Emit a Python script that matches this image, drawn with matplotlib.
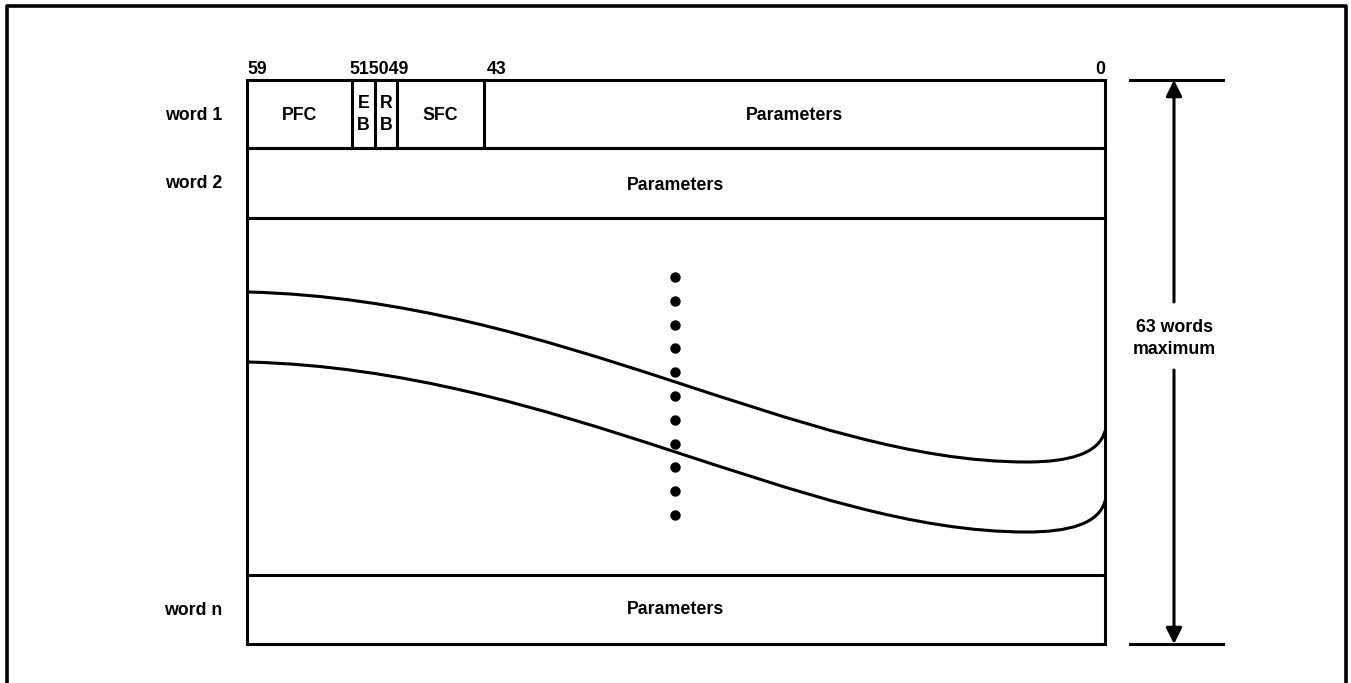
import numpy as np
import matplotlib.pyplot as plt
from matplotlib.path import Path
from matplotlib.patches import PathPatch, Rectangle

# bit layout of word 1
bit_labels = ['59', '51', '50', '49', '43', '0']
field_names = ['PFC', 'E\nB', 'R\nB', 'SFC', 'Parameters']
field_edges = [247, 352, 375, 397, 484, 1105]   # x of field boundaries (px)

row_names = ['word 1', 'word 2', 'word n']
row_top = [80, 148, 575]
row_bot = [148, 218, 644]

# two wavy "break" curves (upper one, lower one = +70 px)
curve_a = [(248, 292), (560, 300), (800, 462), (1027, 462)]
curve_b = [(1027, 462), (1068, 462), (1099, 454), (1105, 431)]
curve_gap = 70

n_dots = 11
dot_x = 675
dot_y0, dot_y1 = 277, 515

plt.rcParams['font.family'] = ['Liberation Sans', 'DejaVu Sans']
fig = plt.figure(figsize=(13.51, 6.83), dpi=100)
ax = fig.add_axes([0, 0, 1, 1])
ax.set_xlim(0, 1351)
ax.set_ylim(683, 0)
ax.axis('off')

lw = 2.2
fs = 12.8
left, right = field_edges[0], field_edges[-1]

# outer frame (no bottom edge)
ax.plot([7, 7, 1346, 1346], [690, 6, 6, 690], color='black', lw=2.6, solid_capstyle='butt')

# boxes
for top, bot in zip(row_top, row_bot):
    ax.add_patch(Rectangle((left, top), right - left, bot - top, fill=False,
                           ec='black', lw=lw))
# side lines between word 2 and word n
ax.plot([left, left], [row_bot[1], row_top[2]], color='black', lw=lw)
ax.plot([right, right], [row_bot[1], row_top[2]], color='black', lw=lw)

# field dividers in word 1
for x in field_edges[1:-1]:
    ax.plot([x, x], [row_top[0], row_bot[0]], color='black', lw=lw)

# field names
for i, name in enumerate(field_names):
    cx = (field_edges[i] + field_edges[i + 1]) / 2
    if '\n' in name:
        a, b = name.split('\n')
        ax.text(cx, 103, a, ha='center', va='center', fontsize=fs, fontweight='bold')
        ax.text(cx, 126, b, ha='center', va='center', fontsize=fs, fontweight='bold')
    else:
        ax.text(cx, 116, name, ha='center', va='center', fontsize=fs, fontweight='bold')

# bit numbers
ax.text(left, 70, bit_labels[0], ha='left', va='center', fontsize=fs, fontweight='bold')
ax.text(349, 70, ''.join(bit_labels[1:4]), ha='left', va='center', fontsize=fs, fontweight='bold')
ax.text(487, 70, bit_labels[4], ha='left', va='center', fontsize=fs, fontweight='bold')
ax.text(right, 70, bit_labels[5], ha='right', va='center', fontsize=fs, fontweight='bold')

# row labels
for name, top, bot in zip(row_names, row_top, row_bot):
    ax.text(222, (top + bot) / 2 + 1, name, ha='right', va='center', fontsize=fs, fontweight='bold')
ax.text((left + right) / 2, (row_top[1] + row_bot[1]) / 2 + 2, 'Parameters',
        ha='center', va='center', fontsize=fs, fontweight='bold')
ax.text((left + right) / 2, (row_top[2] + row_bot[2]) / 2, 'Parameters',
        ha='center', va='center', fontsize=fs, fontweight='bold')

# curves
codes = [Path.MOVETO, Path.CURVE4, Path.CURVE4, Path.CURVE4,
         Path.CURVE4, Path.CURVE4, Path.CURVE4]
pts = curve_a + curve_b[1:]
for dy in [0, curve_gap]:
    verts = [(x, y + dy) for x, y in pts]
    ax.add_patch(PathPatch(Path(verts, codes), fill=False, ec='black', lw=lw))

# dots
ax.scatter(np.full(n_dots, dot_x), np.linspace(dot_y0, dot_y1, n_dots),
           s=42, color='black', zorder=3)

# dimension arrow
arr_x = 1174
ax.plot([1130, 1223], [row_top[0], row_top[0]], color='black', lw=lw)
ax.plot([1130, 1223], [row_bot[2], row_bot[2]], color='black', lw=lw)
ax.annotate('', xy=(arr_x, row_top[0]), xytext=(arr_x, 302),
            arrowprops=dict(arrowstyle='-|>', color='black', lw=lw,
                            mutation_scale=24, shrinkA=0, shrinkB=0))
ax.annotate('', xy=(arr_x, row_bot[2]), xytext=(arr_x, 370),
            arrowprops=dict(arrowstyle='-|>', color='black', lw=lw,
                            mutation_scale=24, shrinkA=0, shrinkB=0))
ax.text(arr_x, 327, '63 words', ha='center', va='center', fontsize=fs, fontweight='bold')
ax.text(arr_x, 349, 'maximum', ha='center', va='center', fontsize=fs, fontweight='bold')

fig.savefig('out.png', dpi=100)
